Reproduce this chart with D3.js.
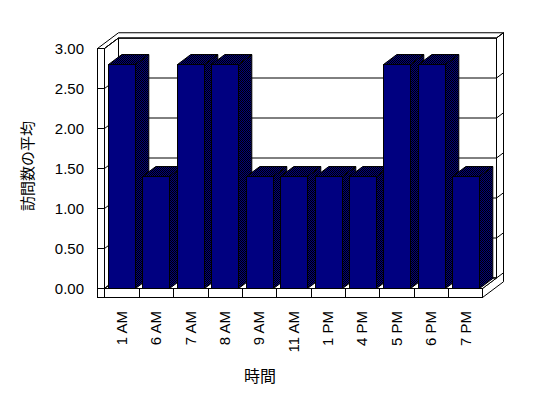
<!DOCTYPE html>
<html><head><meta charset="utf-8">
<script src="https://cdn.jsdelivr.net/npm/d3@7"></script>
<style>body{margin:0;background:#fff}svg{display:block}</style>
</head><body>
<script>
const categories = ["1 AM","6 AM","7 AM","8 AM","9 AM","11 AM","1 PM","4 PM","5 PM","6 PM","7 PM"];
const values = [2.8,1.4,2.8,2.8,1.4,1.4,1.4,1.4,2.8,2.8,1.4];
const yTicks = [0,0.5,1,1.5,2,2.5,3];
const yTitle = "訪問数の平均";
const xTitle = "時間";

const W = 548, H = 398;
const svg = d3.select("body").append("svg").attr("width", W).attr("height", H);
const defs = svg.append("defs");
const pat = defs.append("pattern").attr("id","dither").attr("patternUnits","userSpaceOnUse").attr("width",2).attr("height",2);
pat.append("rect").attr("width",2).attr("height",2).attr("fill","#000080");
pat.append("rect").attr("x",0).attr("y",0).attr("width",1).attr("height",1).attr("fill","#000");
pat.append("rect").attr("x",1).attr("y",1).attr("width",1).attr("height",1).attr("fill","#000");

const x0 = 104.5, x1 = 482.5;
const xBand = d3.scaleBand().domain(categories).range([x0, x1]).padding(0);
const xBar = d3.scaleBand().domain(categories).range([x0, x1]).paddingInner(0.22).paddingOuter(0.1);
const y = d3.scaleLinear().domain([0,3]).range([288.5, 48.5]);
const DX = 14, DY = -10.5;
const P = (x, yy, t) => [x + t*DX, yy + t*DY];
const poly = pts => pts.map(p => p.join(",")).join(" ");

const wallL = 97.5, yTop = y(3), yBot = y(0), yFloorB = 297.5, T2 = 1.5;
const g = svg.append("g").attr("stroke","#000").attr("stroke-width",1).attr("fill","#fff");

// back wall front face
g.append("polygon").attr("points", poly([P(x0,yTop,1),P(x1,yTop,1),P(x1,yBot,1),P(x0,yBot,1)]));
// top of walls
g.append("polygon").attr("points", poly([[wallL,yTop],[x0,yTop],P(x0,yTop,1),P(x1,yTop,1),P(x1,yTop,T2),P(wallL,yTop,T2)]));
// right side of back wall + floor
g.append("polygon").attr("points", poly([[x1,yBot],[x1,yFloorB],P(x1,yFloorB,T2),P(x1,yTop,T2),P(x1,yTop,1),P(x1,yBot,1)]));
// left wall inner face
g.append("polygon").attr("points", poly([[x0,yTop],P(x0,yTop,1),P(x0,yBot,1),[x0,yBot]]));
// floor top
g.append("polygon").attr("points", poly([[x0,yBot],[x1,yBot],P(x1,yBot,1),P(x0,yBot,1)]));
// floor front
g.append("rect").attr("x",x0).attr("y",yBot).attr("width",x1-x0).attr("height",yFloorB-yBot);
// left wall front
g.append("rect").attr("x",wallL).attr("y",yTop).attr("width",x0-wallL).attr("height",yFloorB-yTop);

// gridlines
yTicks.forEach(v => {
  const yy = y(v);
  g.append("polyline").attr("fill","none").attr("points", poly([[wallL,yy],[x0,yy],P(x0,yy,1),P(x1,yy,1),P(x1,yy,T2)]));
});
// category separators on floor front
categories.slice(1).forEach(c => {
  const xx = Math.round(xBand(c)) + 0.5;
  g.append("line").attr("x1",xx).attr("x2",xx).attr("y1",yBot).attr("y2",yFloorB);
});

// bars
const BT = 0.95;
const bars = svg.append("g");
categories.forEach((c,i) => {
  const bx0 = Math.round(xBar(c)) + 0.5, bx1 = bx0 + Math.round(xBar.bandwidth());
  const yv = y(values[i]);
  const bg = bars.append("g").attr("stroke","#000").attr("stroke-width",1);
  bg.append("polygon").attr("fill","url(#dither)").attr("points", poly([[bx1,yv],P(bx1,yv,BT),P(bx1,yBot,BT),[bx1,yBot]]));
  bg.append("polygon").attr("fill","url(#dither)").attr("points", poly([[bx0,yv],[bx1,yv],P(bx1,yv,BT),P(bx0,yv,BT)]));
  bg.append("rect").attr("fill","#000080").attr("x",bx0).attr("y",yv).attr("width",bx1-bx0).attr("height",yBot-yv);
});

const font = "'Liberation Sans', Arial, sans-serif";
// y labels
svg.append("g").selectAll("text").data(yTicks).join("text")
  .attr("x", 84).attr("y", d => y(d)).attr("dy","0.35em")
  .attr("text-anchor","end").attr("font-family",font).attr("font-size",15)
  .text(d3.format(".2f"));
// x labels
svg.append("g").selectAll("text").data(categories).join("text")
  .attr("transform", c => `translate(${xBand(c)+xBand.bandwidth()/2},311) rotate(-90)`)
  .attr("dy","0.35em").attr("text-anchor","end")
  .attr("font-family",font).attr("font-size",15).text(d => d);
// titles
svg.append("text").attr("transform","translate(28,166) rotate(-90)").attr("dy","0.35em")
  .attr("text-anchor","middle").attr("font-family","'Noto Sans CJK JP', sans-serif").attr("font-size",15).text(yTitle);
svg.append("text").attr("x",260).attr("y",376).attr("dy","0.35em")
  .attr("text-anchor","middle").attr("font-family","'Noto Sans CJK JP', sans-serif").attr("font-size",16).text(xTitle);
</script>
</body></html>
